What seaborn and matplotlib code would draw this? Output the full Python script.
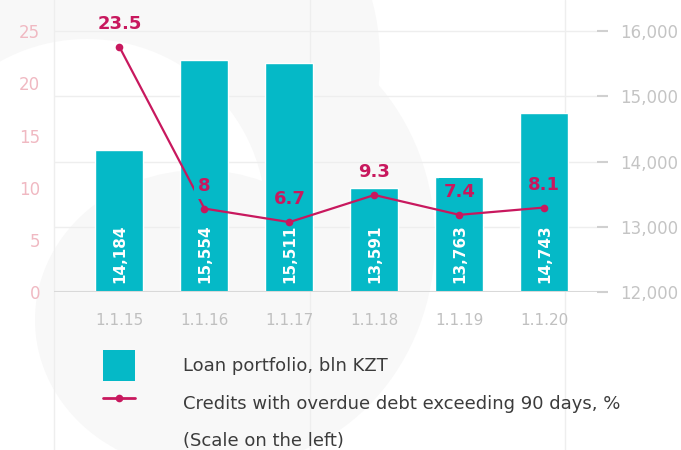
import numpy as np
import pandas as pd
import matplotlib.pyplot as plt
import seaborn as sns
from matplotlib.patches import Ellipse, Patch
from matplotlib.lines import Line2D
from matplotlib.ticker import FuncFormatter

dates = ['1.1.15', '1.1.16', '1.1.17', '1.1.18', '1.1.19', '1.1.20']
loan_portfolio = [14184, 15554, 15511, 13591, 13763, 14743]
overdue_share = [23.5, 8, 6.7, 9.3, 7.4, 8.1]
overdue_labels = ['23.5', '8', '6.7', '9.3', '7.4', '8.1']
left_ticks = [0, 5, 10, 15, 20, 25]
right_ticks = [12000, 13000, 14000, 15000, 16000]
legend_labels = [
    'Loan portfolio, bln KZT',
    'Credits with overdue debt exceeding 90 days, %',
    '(Scale on the left)',
]

BAR = '#05b9c7'
LINE = '#c8185e'
BG_GRAY = '#f8f8f8'
GRID = '#eeeeee'

W, H = 681, 450

sns.set_style('white')
plt.rcParams['font.family'] = ['DejaVu Sans']

fig = plt.figure(figsize=(W / 100, H / 100), dpi=100)
fig.patch.set_facecolor('white')


def blob(cx, cy, rx, ry, color):
    # decorative background shapes, given in pixels from the top-left corner
    fig.add_artist(Ellipse((cx / W, 1 - cy / H), 2 * rx / W, 2 * ry / H,
                           transform=fig.transFigure, fc=color, ec='none', zorder=-5))


blob(150, 60, 230, 230, BG_GRAY)
blob(230, 240, 205, 225, BG_GRAY)
blob(87, 218, 179, 179, 'white')
blob(200, 320, 165, 150, BG_GRAY)

for px in [54, 310, 565]:
    fig.add_artist(Line2D([px / W, px / W], [0, 1], transform=fig.transFigure,
                          color=GRID, lw=1, zorder=-4))

# bars on the main axes (right scale)
ax = fig.add_axes([54 / W, 1 - 292 / H, (597 - 54) / W, 292 / H])
ax.patch.set_visible(False)

df = pd.DataFrame({'date': dates, 'loan': loan_portfolio})
sns.barplot(data=df, x='date', y='loan', color=BAR, saturation=1, width=0.565, ax=ax, zorder=2)

for i, v in enumerate(loan_portfolio):
    ax.annotate(f'{v:,}', (i, 12000), xytext=(0, 6.5), textcoords='offset points',
                rotation=90, ha='center', va='bottom', color='white',
                fontsize=11, fontweight='bold', zorder=4)

# line on the twin axes (left scale)
ax_l = ax.twinx()
ax_l.patch.set_visible(False)
sns.lineplot(x=np.arange(len(dates)), y=overdue_share, ax=ax_l, color=LINE, lw=1.6,
             marker='o', markersize=5.5, markeredgewidth=0)

ax.set_ylim(12000, 16480)
ax.yaxis.tick_right()
ax.set_yticks(right_ticks)
ax.yaxis.set_major_formatter(FuncFormatter(lambda v, _: f'{v:,.0f}'))
ax.tick_params(axis='y', length=8, width=1.5, color='#d0d0d0', pad=8.5,
               labelsize=12, labelcolor='#c4c4c4')
ax.tick_params(axis='x', length=0, pad=15, labelsize=11, labelcolor='#c0c0c0')
ax.set_xlabel('')
ax.set_ylabel('')
for s in ax.spines.values():
    s.set_visible(False)
ax.yaxis.grid(True, color=GRID, lw=1)
ax.set_axisbelow(True)
ax.axhline(12000, color='#d9d9d9', lw=1.5, zorder=3)

ax_l.yaxis.tick_left()
ax_l.set_ylim(0, 28)
ax_l.set_yticks(left_ticks)
ax_l.set_ylabel('')
ax_l.tick_params(axis='y', length=0, pad=10, labelsize=12, labelcolor='#f0b9c2')
for s in ax_l.spines.values():
    s.set_visible(False)

ratio = (16480 - 12000) / 28
for i, (v, lab) in enumerate(zip(overdue_share, overdue_labels)):
    inside = (loan_portfolio[i] - 12000) / ratio > v + 3.2
    bbox = dict(boxstyle='square,pad=0.25', fc=BAR, ec='none') if inside else None
    ax_l.annotate(lab, (i, v), xytext=(0, 16.5), textcoords='offset points',
                  ha='center', va='center', color=LINE, fontsize=13,
                  fontweight='bold', bbox=bbox, zorder=5, annotation_clip=False)

ax.set_xlim(-0.77, 5.62)

handles = [
    Patch(fc=BAR, ec='none'),
    Line2D([], [], color=LINE, lw=2, marker='o', markersize=5.5, markeredgewidth=0),
    Patch(fc='none', ec='none'),
]
fig.legend(handles, legend_labels, loc='upper left', bbox_to_anchor=(103 / W, 1 - 350 / H),
           frameon=False, fontsize=13, handlelength=1.77, handleheight=2.26,
           handletextpad=2.66, labelspacing=0.36, borderpad=0, borderaxespad=0,
           labelcolor='#3c3c3c')

fig.savefig('out.png', dpi=100, facecolor='white')
